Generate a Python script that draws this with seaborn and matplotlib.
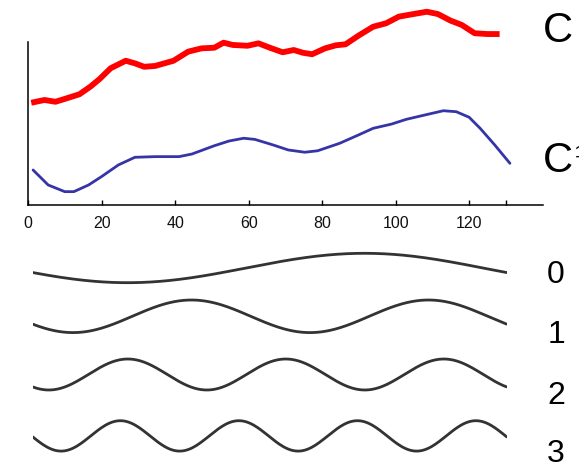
import numpy as np
import pandas as pd
import matplotlib
matplotlib.use("Agg")
import matplotlib.pyplot as plt
import seaborn as sns

sns.set_theme(style="white")
plt.rcParams["font.family"] = ["Liberation Sans", "DejaVu Sans"]

# ---- top panel data (x: sample index, y: arbitrary units) ----
red_x = [0.8, 4.4, 7.4, 10.4, 13.9, 16.9, 19.4, 22.4, 26.5, 29.0, 31.5, 34.5, 39.5,
         43.5, 47.1, 50.6, 53.1, 55.6, 59.6, 62.6, 65.7, 69.2, 72.2, 74.7, 77.2,
         80.7, 83.7, 86.3, 89.8, 93.8, 97.3, 100.8, 104.8, 108.4, 111.4, 114.9,
         117.9, 121.4, 124.9, 128.2]
red_y = [62.5, 64.2, 63.1, 65.2, 67.7, 72.4, 77.1, 83.7, 88.3, 86.7, 84.6, 85.1, 88.3,
         93.9, 95.9, 96.3, 99.4, 98.0, 97.5, 99.0, 96.3, 93.5, 94.9, 93.2, 92.3,
         95.9, 97.8, 98.4, 103.7, 109.2, 111.3, 115.4, 117.0, 118.4, 117.0, 112.9,
         110.3, 105.2, 104.7, 104.7]

blue_x = [1.3, 5.4, 9.9, 12.4, 16.4, 19.9, 24.5, 29.0, 34.5, 41.0, 44.5, 50.6, 54.6,
          58.6, 61.6, 66.7, 70.7, 75.2, 78.7, 84.7, 89.8, 93.8, 98.8, 102.8, 107.9,
          112.9, 116.4, 119.9, 122.9, 126.9, 131.0]
blue_y = [21.2, 12.0, 7.9, 7.9, 12.0, 17.1, 24.3, 29.0, 29.4, 29.4, 31.0, 36.1, 39.0,
          40.7, 40.0, 36.5, 33.5, 32.1, 33.0, 37.6, 42.7, 46.8, 49.4, 52.3, 55.0,
          57.6, 57.0, 53.6, 46.8, 36.5, 25.3]

tick_values = [0, 20, 40, 60, 80, 100, 120, 130]
tick_labels = ["0", "20", "40", "60", "80", "100", "120", ""]

top_labels = ["C", "C"]
top_suffix = ["", "\u00b9"]

# ---- bottom panel: basis waves (cycles per span, trough phase, amplitude px) ----
wave_labels = ["0", "1", "2", "3"]
wave_cycles = [1, 2, 3, 4]
wave_trough_phase = [0.200, 0.085, 0.034, 0.060]
wave_amp = [14.7, 16.3, 15.5, 15.2]

# ---- layout constants (pixels) ----
W, H = 579, 468
fig = plt.figure(figsize=(W / 100, H / 100), dpi=100)
fig.patch.set_facecolor("white")

ax = fig.add_axes([28.3 / W, (H - 204.5) / H, (543 - 28.3) / W, 204.5 / H])
ax.set_facecolor("none")
df_red = pd.DataFrame({"x": red_x, "y": red_y})
df_blue = pd.DataFrame({"x": blue_x, "y": blue_y})
sns.lineplot(data=df_red, x="x", y="y", ax=ax, color="#ff0000", lw=4.2,
             solid_capstyle="butt", solid_joinstyle="round",
             estimator=None, sort=False)
sns.lineplot(data=df_blue, x="x", y="y", ax=ax, color="#3535a8", lw=2.0,
             solid_joinstyle="round", estimator=None, sort=False)
ax.set_xlim(0, 140)
ax.set_ylim(0, 204.5 / 1.628)
ax.set_xlabel("")
ax.set_ylabel("")
ax.set_xticks(tick_values)
ax.set_xticklabels(tick_labels)
ax.set_yticks([])
for s in ["top", "right"]:
    ax.spines[s].set_visible(False)
for s in ["left", "bottom"]:
    ax.spines[s].set_color("black")
    ax.spines[s].set_linewidth(1.1)
ax.spines["left"].set_bounds(0, 100)
ax.tick_params(axis="x", direction="in", length=3.6, width=1.0, color="black",
               pad=8, labelsize=11.5, labelcolor="#111111", bottom=True)

for lab, suf, base in zip(top_labels, top_suffix, [42.5, 172.5]):
    fig.text(543 / W, 1 - base / H, lab, ha="left", va="baseline",
             fontsize=30, color="black")
    if suf:
        fig.text(575 / W, 1 - (base - 8) / H, suf, ha="left", va="baseline",
                 fontsize=20, color="black")

# bottom panel
ax2 = fig.add_axes([32.7 / W, 0, 474 / W, (H - 240) / H])
ax2.set_xlim(0, 1)
ax2.set_ylim(H, 240)
ax2.axis("off")
centers = [268.0, 316.3, 374.5, 435.9]
t = np.linspace(0, 1, 400)
for k in range(len(wave_labels)):
    val = -np.cos(2 * np.pi * wave_cycles[k] * (t - wave_trough_phase[k]))
    ypx = centers[k] - wave_amp[k] * val
    sns.lineplot(x=t, y=ypx, ax=ax2, color="#333333", lw=2.0,
                 estimator=None, sort=False)

label_base = [283.0, 343.0, 404.0, 462.0]
for lab, base in zip(wave_labels, label_base):
    ax2.text((556 - 32.7) / 474, base, lab, ha="center", va="baseline",
             fontsize=23, color="black")

fig.savefig("out.png", dpi=100)
